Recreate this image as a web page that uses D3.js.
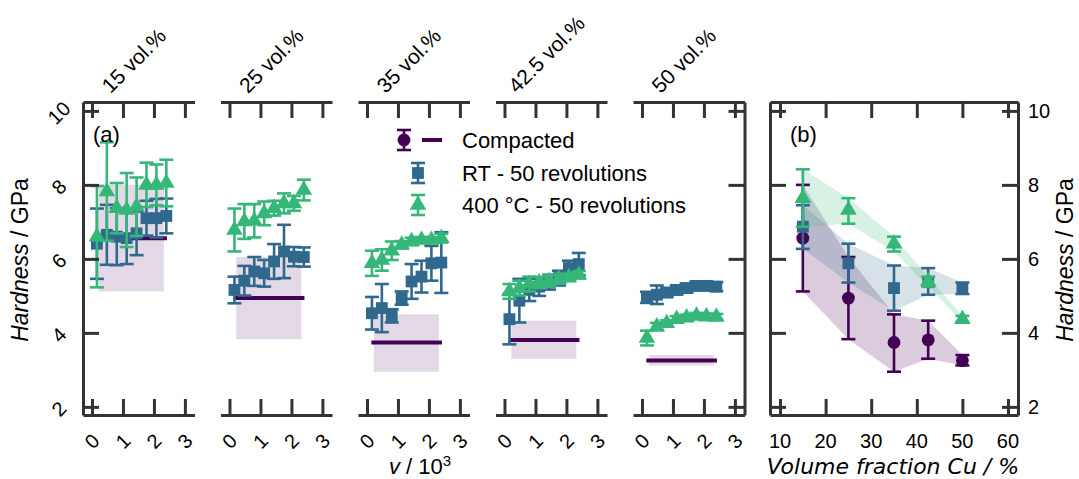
<!DOCTYPE html>
<html>
<head>
<meta charset="utf-8">
<script src="https://cdn.jsdelivr.net/npm/d3@7"></script>
<style>
  body { margin: 0; background: #fff; }
  text { font-family: "Liberation Sans", Arial, sans-serif; fill: #000; }
</style>
</head>
<body>
<svg id="chart" width="1079" height="479"></svg>
<script>
// ---- data ----
const fractionLabels = ["15 vol.%", "25 vol.%", "35 vol.%", "42.5 vol.%", "50 vol.%"];
const fractions = [15, 25, 35, 42.5, 50];
const revs = [0.16, 0.48, 0.80, 1.12, 1.44, 1.76, 2.08, 2.40];

const rtMean = [
  [6.41, 6.65, 6.60, 6.56, 6.69, 7.10, 7.10, 7.16],
  [5.16, 5.41, 5.66, 5.61, 5.93, 6.20, 6.06, 6.05],
  [4.53, 4.67, 4.46, 4.94, 5.39, 5.52, 5.88, 5.90],
  [4.37, 4.87, 5.16, 5.25, 5.37, 5.48, 5.75, 5.86],
  [4.96, 5.03, 5.09, 5.16, 5.21, 5.27, 5.27, 5.25]
];
const rtErr = [
  [0.95, 0.81, 0.77, 0.70, 0.59, 0.47, 0.52, 0.47],
  [0.36, 0.40, 0.39, 0.36, 0.47, 0.72, 0.26, 0.26],
  [0.44, 0.65, 0.18, 0.18, 0.47, 0.43, 0.47, 0.82],
  [0.68, 0.59, 0.30, 0.25, 0.20, 0.20, 0.20, 0.30],
  [0.15, 0.25, 0.12, 0.12, 0.12, 0.12, 0.12, 0.12]
];
const hotMean = [
  [6.60, 7.82, 7.37, 7.32, 7.41, 8.00, 8.00, 8.05],
  [6.78, 7.01, 7.03, 7.23, 7.37, 7.50, 7.50, 7.86],
  [5.88, 5.97, 6.22, 6.38, 6.47, 6.51, 6.51, 6.56],
  [5.12, 5.21, 5.32, 5.36, 5.40, 5.45, 5.50, 5.57],
  [3.86, 4.17, 4.26, 4.37, 4.41, 4.46, 4.44, 4.43]
];
const hotErr = [
  [1.37, 1.33, 0.68, 1.00, 0.79, 0.60, 0.55, 0.63],
  [0.58, 0.47, 0.45, 0.32, 0.20, 0.27, 0.20, 0.28],
  [0.34, 0.29, 0.25, 0.10, 0.10, 0.08, 0.08, 0.12],
  [0.20, 0.20, 0.20, 0.15, 0.15, 0.12, 0.10, 0.10],
  [0.20, 0.10, 0.08, 0.08, 0.08, 0.08, 0.08, 0.08]
];
const compMean = [6.56, 4.94, 3.74, 3.81, 3.25];
const compLo = [5.12, 3.83, 2.95, 3.30, 3.12];
const compHi = [8.00, 6.05, 4.50, 4.33, 3.40];

const rtAvg = [6.87, 5.88, 5.21, 5.37, 5.21];
const rtLo = [6.27, 5.36, 4.60, 5.03, 5.05];
const rtHi = [7.45, 6.41, 5.82, 5.75, 5.36];
const hotAvg = [7.64, 7.32, 6.41, 5.39, 4.37];
const hotLo = [6.87, 6.95, 6.20, 5.25, 4.29];
const hotHi = [8.42, 7.64, 6.60, 5.52, 4.46];

const legendLabels = ["Compacted", "RT - 50 revolutions", "400 \u00b0C - 50 revolutions"];
const revTicks = [0, 1, 2, 3];
const hardTicks = [2, 4, 6, 8, 10];
const fracTicks = [10, 20, 30, 40, 50, 60];

// ---- layout ----
const purple = "#440154", blue = "#31688e", green = "#35b779";
const spine = "#333";
const plotTop = 102, plotBottom = 415;
const tickLen = 16;

const svg = d3.select("#chart");
const y = d3.scaleLinear().domain([1.78, 10.24]).range([plotBottom, plotTop]);

function errorSeries(g, x, xs, mid, lo, hi, color, shape) {
  const pts = xs.map((v, k) => ({ x: v, m: mid[k], lo: lo[k], hi: hi[k] }));
  const grp = g.append("g").attr("stroke", color).attr("stroke-width", 2.6);
  grp.selectAll(null).data(pts).join("line")
    .attr("x1", d => x(d.x)).attr("x2", d => x(d.x))
    .attr("y1", d => y(d.lo)).attr("y2", d => y(d.hi));
  ["lo", "hi"].forEach(k => {
    grp.selectAll(null).data(pts).join("line")
      .attr("x1", d => x(d.x) - 7).attr("x2", d => x(d.x) + 7)
      .attr("y1", d => y(d[k])).attr("y2", d => y(d[k]));
  });
  const sym = shape === "square" ? d3.symbol(d3.symbolSquare, 140)
    : shape === "triangle" ? d3.symbol(d3.symbolTriangle, 120)
    : d3.symbol(d3.symbolCircle, 130);
  g.append("g").selectAll(null).data(pts).join("path")
    .attr("d", sym)
    .attr("transform", d => `translate(${x(d.x)},${y(d.m)})`)
    .attr("fill", color);
}

function styleAxis(a) {
  a.selectAll(".domain").attr("stroke", spine).attr("stroke-width", 3);
  a.selectAll(".tick line").attr("stroke", spine).attr("stroke-width", 3);
  a.selectAll(".tick text").remove();
}

// ---- panel (a): five small panels ----
const panelW = 111.5, panelStep = 137.5, panelX0 = 83;

fractions.forEach((f, i) => {
  const left = panelX0 + i * panelStep;
  const x = d3.scaleLinear().domain([-0.29, 3.31]).range([left, left + panelW]);
  const g = svg.append("g");

  g.append("rect")
    .attr("x", x(0.22)).attr("width", x(2.32) - x(0.22))
    .attr("y", y(compHi[i])).attr("height", y(compLo[i]) - y(compHi[i]))
    .attr("fill", purple).attr("fill-opacity", 0.15);
  g.append("line")
    .attr("x1", x(0.14)).attr("x2", x(2.42))
    .attr("y1", y(compMean[i])).attr("y2", y(compMean[i]))
    .attr("stroke", purple).attr("stroke-width", 4);

  const rtL = rtMean[i].map((m, k) => m - rtErr[i][k]);
  const rtH = rtMean[i].map((m, k) => m + rtErr[i][k]);
  errorSeries(g, x, revs, rtMean[i], rtL, rtH, blue, "square");
  const hL = hotMean[i].map((m, k) => m - hotErr[i][k]);
  const hH = hotMean[i].map((m, k) => m + hotErr[i][k]);
  errorSeries(g, x, revs, hotMean[i], hL, hH, green, "triangle");

  const ab = g.append("g").attr("transform", `translate(0,${plotBottom})`)
    .call(d3.axisBottom(x).tickValues(revTicks).tickSize(-tickLen).tickSizeOuter(0));
  styleAxis(ab);
  const at = g.append("g").attr("transform", `translate(0,${plotTop})`)
    .call(d3.axisTop(x).tickValues(revTicks).tickSize(-tickLen).tickSizeOuter(0));
  styleAxis(at);

  g.selectAll(null).data(revTicks).join("text")
    .attr("transform", d => `translate(${x(d)},441) rotate(-45)`)
    .attr("text-anchor", "middle").attr("dominant-baseline", "central")
    .style("font-size", "20px").text(d => d);

  // rotated title above each panel
  const t = g.append("text")
    .attr("text-anchor", "middle").attr("dominant-baseline", "central")
    .style("font-size", "21px").text(fractionLabels[i]);
  const L = t.node().getComputedTextLength();
  const half = (L / 2 + 10) * Math.SQRT1_2;
  t.attr("transform", `translate(${left + panelW / 2 - 5},${96 - half}) rotate(-45)`);

  if (i === 0) {
    const al = g.append("g").attr("transform", `translate(${left},0)`)
      .call(d3.axisLeft(y).tickValues(hardTicks).tickSize(-tickLen).tickSizeOuter(0));
    styleAxis(al);
    g.selectAll(null).data(hardTicks).join("text")
      .attr("transform", d => `translate(59,${y(d) + 2}) rotate(-45)`)
      .attr("text-anchor", "middle").attr("dominant-baseline", "central")
      .style("font-size", "20px").text(d => d);
    g.append("text").attr("x", left + 10).attr("y", 134)
      .attr("dominant-baseline", "central").style("font-size", "22px").text("(a)");
  }
  if (i === fractions.length - 1) {
    const ar = g.append("g").attr("transform", `translate(${left + panelW},0)`)
      .call(d3.axisRight(y).tickValues(hardTicks).tickSize(-tickLen).tickSizeOuter(0));
    styleAxis(ar);
  }
});

// y label left
svg.append("text")
  .attr("transform", `translate(28,260) rotate(-90)`)
  .attr("text-anchor", "middle").style("font-size", "23px")
  .call(t => {
    t.append("tspan").style("font-style", "italic").text("Hardness");
    t.append("tspan").text(" / GPa");
  });

// x label panel a
svg.append("text")
  .attr("x", 420).attr("y", 474).attr("text-anchor", "middle").style("font-size", "22px")
  .call(t => {
    t.append("tspan").style("font-style", "italic").text("v");
    t.append("tspan").text(" / 10");
    t.append("tspan").attr("dy", -8).style("font-size", "15px").text("3");
  });

// legend
const legY = [140, 173, 205];
const lg = svg.append("g");
const lx = d3.scaleLinear().domain([0, 1]).range([0, 1]);
errorSeries(lg, lx, [404], [y.invert(legY[0])], [y.invert(legY[0] + 10)], [y.invert(legY[0] - 10)], purple, "circle");
lg.append("line").attr("x1", 422).attr("x2", 442).attr("y1", legY[0]).attr("y2", legY[0])
  .attr("stroke", purple).attr("stroke-width", 4);
errorSeries(lg, lx, [418], [y.invert(legY[1])], [y.invert(legY[1] + 10)], [y.invert(legY[1] - 10)], blue, "square");
errorSeries(lg, lx, [418], [y.invert(legY[2])], [y.invert(legY[2] + 10)], [y.invert(legY[2] - 10)], green, "triangle");
lg.selectAll(null).data(legendLabels).join("text")
  .attr("x", 462).attr("y", (d, k) => legY[k])
  .attr("dominant-baseline", "central").style("font-size", "22px").text(d => d);

// ---- panel (b) ----
const bLeft = 770, bRight = 1018;
const xb = d3.scaleLinear().domain([7.8, 62.2]).range([bLeft, bRight]);
const gb = svg.append("g");
const band = (lo, hi) => d3.area().x((d, k) => xb(fractions[k])).y0((d, k) => y(lo[k])).y1((d, k) => y(hi[k]));
gb.append("path").datum(fractions).attr("d", band(compLo, compHi)).attr("fill", purple).attr("fill-opacity", 0.2);
gb.append("path").datum(fractions).attr("d", band(rtLo, rtHi)).attr("fill", blue).attr("fill-opacity", 0.2);
gb.append("path").datum(fractions).attr("d", band(hotLo, hotHi)).attr("fill", green).attr("fill-opacity", 0.2);
errorSeries(gb, xb, fractions, compMean, compLo, compHi, purple, "circle");
errorSeries(gb, xb, fractions, rtAvg, rtLo, rtHi, blue, "square");
errorSeries(gb, xb, fractions, hotAvg, hotLo, hotHi, green, "triangle");

[
  [d3.axisBottom(xb).tickValues(fracTicks), `translate(0,${plotBottom})`],
  [d3.axisTop(xb).tickValues(fracTicks), `translate(0,${plotTop})`],
  [d3.axisLeft(y).tickValues(hardTicks), `translate(${bLeft},0)`],
  [d3.axisRight(y).tickValues(hardTicks), `translate(${bRight},0)`]
].forEach(([ax, tr]) => {
  const a = gb.append("g").attr("transform", tr).call(ax.tickSize(-tickLen).tickSizeOuter(0));
  styleAxis(a);
});

gb.selectAll(null).data(fracTicks).join("text")
  .attr("x", d => xb(d)).attr("y", 441)
  .attr("text-anchor", "middle").attr("dominant-baseline", "central")
  .style("font-size", "20px").text(d => d);
gb.selectAll(null).data(hardTicks).join("text")
  .attr("x", bRight + 10).attr("y", d => y(d))
  .attr("dominant-baseline", "central")
  .style("font-size", "20px").text(d => d);
gb.append("text").attr("x", bLeft + 20).attr("y", 134)
  .attr("dominant-baseline", "central").style("font-size", "22px").text("(b)");

svg.append("text")
  .attr("transform", `translate(1073,260) rotate(-90)`)
  .attr("text-anchor", "middle").style("font-size", "23px")
  .call(t => {
    t.append("tspan").style("font-style", "italic").text("Hardness");
    t.append("tspan").text(" / GPa");
  });

svg.append("text")
  .attr("x", 893).attr("y", 474).attr("text-anchor", "middle")
  .style("font-family", "'DejaVu Sans', sans-serif").style("font-style", "italic")
  .style("font-size", "22px").text("Volume fraction Cu / %");
</script>
</body>
</html>
